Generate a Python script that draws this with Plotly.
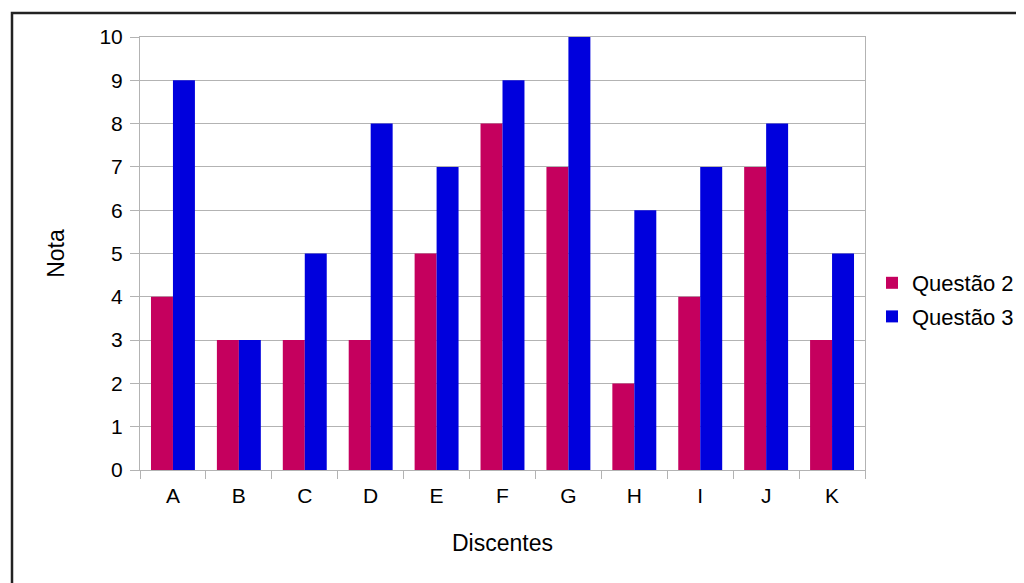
import plotly.graph_objects as go

categories = ["A", "B", "C", "D", "E", "F", "G", "H", "I", "J", "K"]
questao2 = [4, 3, 3, 3, 5, 8, 7, 2, 4, 7, 3]
questao3 = [9, 3, 5, 8, 7, 9, 10, 6, 7, 8, 5]
yticks = [0, 1, 2, 3, 4, 5, 6, 7, 8, 9, 10]

FONT = "Liberation Sans, Arial, sans-serif"
GRID = "#b3b3b3"
FS = 21
FT = 23
FL = 22

fig = go.Figure()
fig.add_trace(go.Bar(x=categories, y=questao2, name="Questão 2",
                     marker=dict(color="#c5005e", line=dict(width=0)),
                     legendgroup="q2"))
fig.add_trace(go.Bar(x=categories, y=questao3, name="Questão 3",
                     marker=dict(color="#0000dd", line=dict(width=0)),
                     legendgroup="q3"))

# page has an 8px body margin; work in figure coordinates
OFF = 8
W, H = 1024 - OFF, 583 - OFF
L, R, T, B = 140 - OFF, 865 - OFF, 37 - OFF, 470 - OFF

def px2x(px):
    return (px - OFF - L) / (R - L)

def px2y(py):
    return (B - (py - OFF)) / (B - T)

fig.update_layout(
    width=W, height=H,
    margin=dict(l=L, r=W - R, t=T, b=H - B, pad=0, autoexpand=False),
    paper_bgcolor="white", plot_bgcolor="white",
    font=dict(family=FONT, size=FS, color="#000000"),
    barmode="group", bargap=1/3, bargroupgap=0,
    showlegend=True,
    legend=dict(x=px2x(872), xanchor="left", y=px2y(300), yanchor="middle",
                font=dict(size=FL), tracegroupgap=2, bgcolor="rgba(0,0,0,0)",
                borderwidth=0),
    xaxis=dict(
        title=dict(text="Discentes", font=dict(size=FT), standoff=28),
        tickson="boundaries", ticks="outside", ticklen=8, tickcolor=GRID,
        ticklabelstandoff=7,
        showline=True, linecolor=GRID, linewidth=1, mirror=True,
        showgrid=False, tickfont=dict(size=FS), automargin=False,
    ),
    yaxis=dict(
        title=dict(text="Nota", font=dict(size=FT), standoff=28),
        range=[0, 10], tickvals=yticks, ticks="outside", ticklen=9,
        ticklabelstandoff=3,
        tickcolor=GRID, showline=True, linecolor=GRID, linewidth=1,
        mirror=True, showgrid=True, gridcolor=GRID, gridwidth=1,
        zeroline=False, tickfont=dict(size=FS), automargin=False,
    ),
    shapes=[dict(type="rect", xref="paper", yref="paper",
                 x0=px2x(12), x1=px2x(1040), y0=px2y(600), y1=px2y(13),
                 line=dict(color="#222222", width=2.5), fillcolor="rgba(0,0,0,0)",
                 layer="above")],
)

fig.write_html("out.html")
